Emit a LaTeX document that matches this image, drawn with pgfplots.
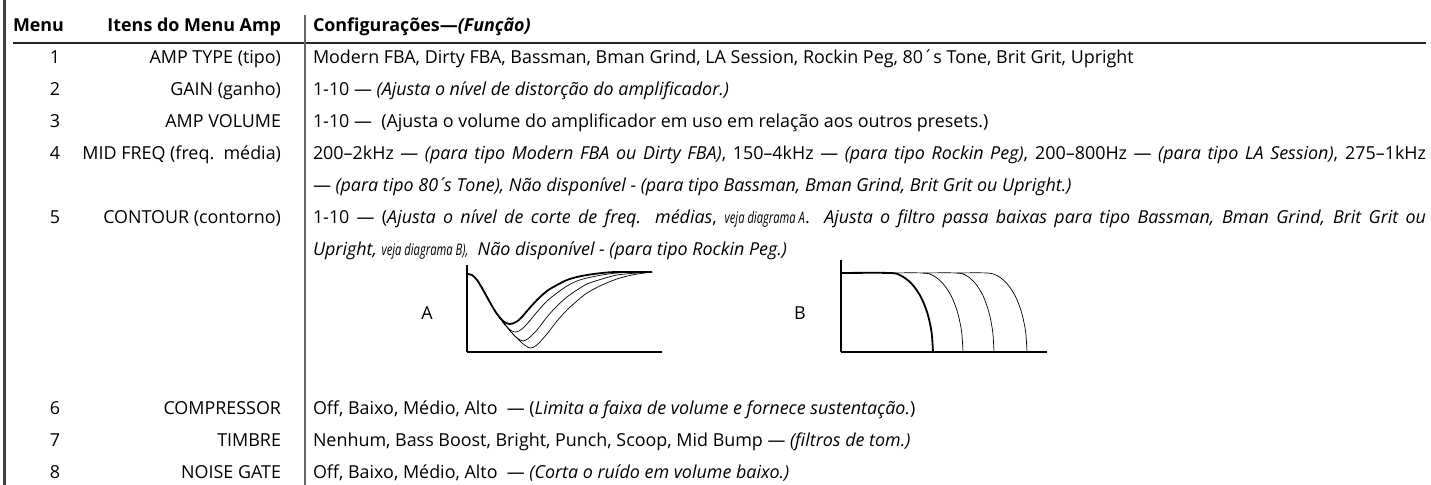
\documentclass[border=0pt]{standalone}
\usepackage{fontspec}
\setmainfont{Open Sans}
\usepackage{graphicx}
\usepackage{pgfplots}
\pgfplotsset{compat=1.18}
\newcommand{\cond}[1]{\scalebox{0.7}[1]{\fontsize{8}{9}\selectfont\itshape #1}}
\newcommand{\rowfont}{\fontsize{8.95}{11}\selectfont}
\newcommand{\acui}{\kern0.6pt\hbox{´}\kern2.4pt}
\begin{document}
\begin{tikzpicture}[x=0.5pt,y=-0.5pt,
  every node/.style={inner sep=0pt, outer sep=0pt, font=\rowfont, text=black}]
% frame lines
\draw[line width=1.5pt, black!75] (4,0) -- (4,485);
\draw[line width=1pt, black!85] (13,43) -- (1426,43);
\draw[line width=1pt, black!60] (305,15) -- (305,485);
% header
\node[anchor=base west] at (13,31.5) {\textbf{Menu}};
\node[anchor=base east] at (281,31.5) {\textbf{Itens do Menu Amp}};
\node[anchor=base west] at (313,31.5) {\textbf{Configurações—\textit{(Função)}}};
% column 1
\node[anchor=base] at (55,63.5) {1};
\node[anchor=base] at (55,95.5) {2};
\node[anchor=base] at (55,127.5) {3};
\node[anchor=base] at (55,159.5) {4};
\node[anchor=base] at (55,223.5) {5};
\node[anchor=base] at (55,414.5) {6};
\node[anchor=base] at (55,446.5) {7};
\node[anchor=base] at (55,478.5) {8};
% column 2
\node[anchor=base east] at (281,63.5) {AMP TYPE (tipo)};
\node[anchor=base east] at (281,95.5) {GAIN (ganho)};
\node[anchor=base east] at (281,127.5) {AMP VOLUME};
\node[anchor=base east] at (281,159.5) {MID FREQ (freq.\ \ média)};
\node[anchor=base east] at (281,223.5) {CONTOUR (contorno)};
\node[anchor=base east] at (281,414.5) {COMPRESSOR};
\node[anchor=base east] at (281,446.5) {TIMBRE};
\node[anchor=base east] at (281,478.5) {NOISE GATE};
% column 3
\node[anchor=base west] at (313,63.5) {Modern FBA, Dirty FBA, Bassman, Bman Grind, LA Session, Rockin Peg, 80´s Tone, Brit Grit, Upright};
\node[anchor=base west] at (313,95.5) {1-10 — \textit{(Ajusta o nível de distorção do amplificador.)}};
\node[anchor=base west] at (313,127.5) {1-10 —\ \ (Ajusta o volume do amplificador em uso em relação aos outros presets.)};
\node[anchor=base west] at (313,159.5) {\makebox[556.5pt][s]{200–2kHz — \textit{(para tipo Modern FBA ou Dirty FBA)}, 150–4kHz — \textit{(para tipo Rockin Peg)}, 200–800Hz — \textit{(para tipo LA Session)}, 275–1kHz}};
\node[anchor=base west] at (313,191.5) {— \textit{(para tipo 80\acui s Tone), Não disponível - (para tipo Bassman, Bman Grind, Brit Grit ou Upright.)}};
\node[anchor=base west] at (313,223.5) {\makebox[556.5pt][s]{1-10 — (\textit{Ajusta o nível de corte de freq. médias}, \cond{veja diagrama A}.\ \ \textit{Ajusta o filtro passa baixas para tipo Bassman, Bman Grind, Brit Grit ou}}};
\node[anchor=base west] at (313,255.5) {\textit{Upright,} \cond{veja diagrama B),}\ \ \textit{Não disponível - (para tipo Rockin Peg.)}};
\node[anchor=base west] at (313,414.5) {Off, Baixo, Médio, Alto\ \ — (\textit{Limita a faixa de volume e fornece sustentação.})};
\node[anchor=base west] at (313,446.5) {Nenhum, Bass Boost, Bright, Punch, Scoop, Mid Bump — \textit{(filtros de tom.)}};
\node[anchor=base west] at (313,478.5) {Off, Baixo, Médio, Alto\ \ — \textit{(Corta o ruído em volume baixo.)}};
% diagram labels
\node at (427,313) {A};
\node at (800,313) {B};
% diagram A
\begin{axis}[at={(233.5pt,-176pt)}, anchor=south west, scale only axis,
  width=97.5pt, height=43.5pt, xmin=0, xmax=195, ymin=0, ymax=87,
  axis x line=bottom, axis y line=left, axis line style={-, line width=0.75pt, black},
  ticks=none, clip=false]
\addplot[line width=0.9pt, smooth, black] coordinates {
 (0,78) (5,77) (10,72) (15,64) (20,55) (25,46) (30,38) (35,32) (39,29) (43,28) (47,29) (50,30.5) (55,35) (60,41) (70,52) (80,61) (90,67) (100,72) (110,75) (120,77) (135,79) (150,80) (185,80)};
\addplot[line width=0.35pt, smooth, black] coordinates {
 (0,78) (5,77) (10,72) (15,64) (20,55) (25,46) (30,38) (35,31) (40,25) (44,21.5) (48,20) (52,21) (55,23) (60,28) (70,40) (80,51) (90,59) (100,66) (110,71) (120,74) (135,77) (150,79) (170,80) (185,80)};
\addplot[line width=0.35pt, smooth, black] coordinates {
 (0,78) (5,77) (10,72) (15,64) (20,55) (25,46) (30,38) (35,31) (40,25) (45,19) (50,14) (53,12) (56,11) (59,12) (62,14) (70,22) (80,35) (90,46) (100,55) (110,62) (120,68) (135,73) (150,77) (170,79) (185,80)};
\addplot[line width=0.35pt, smooth, black] coordinates {
 (0,78) (5,77) (10,72) (15,64) (20,55) (25,46) (30,38) (35,31) (40,25) (45,19) (50,14) (55,9) (59,6) (63,4) (67,5) (70,7) (80,18) (90,31) (100,42) (110,51) (120,59) (135,67) (150,73) (165,77) (185,80)};
\end{axis}
% diagram B
\begin{axis}[at={(420.5pt,-176pt)}, anchor=south west, scale only axis,
  width=103pt, height=46pt, xmin=0, xmax=206, ymin=0, ymax=92,
  axis x line=bottom, axis y line=left, axis line style={-, line width=0.75pt, black},
  ticks=none, clip=false]
\addplot[line width=0.9pt, smooth, black] coordinates {
 (0,79) (49,79) (60.1,76.3) (70.5,68.4) (79.4,55.9) (86.2,39.5) (90.5,20.4) (92,0)};
\addplot[line width=0.35pt, smooth, black] coordinates {
 (49,79) (82,79) (92.4,76.3) (102,68.4) (110.3,55.9) (116.6,39.5) (120.6,20.4) (122,0)};
\addplot[line width=0.35pt, smooth, black] coordinates {
 (82,79) (116,79) (125.6,76.3) (134.5,68.4) (142.2,55.9) (148,39.5) (151.7,20.4) (153,0)};
\addplot[line width=0.35pt, smooth, black] coordinates {
 (116,79) (146,79) (156.4,76.3) (166,68.4) (174.3,55.9) (180.6,39.5) (184.6,20.4) (186,0)};
\end{axis}
\pgfresetboundingbox
\path[use as bounding box] (0,0) rectangle (1431,485);
\end{tikzpicture}
\end{document}
